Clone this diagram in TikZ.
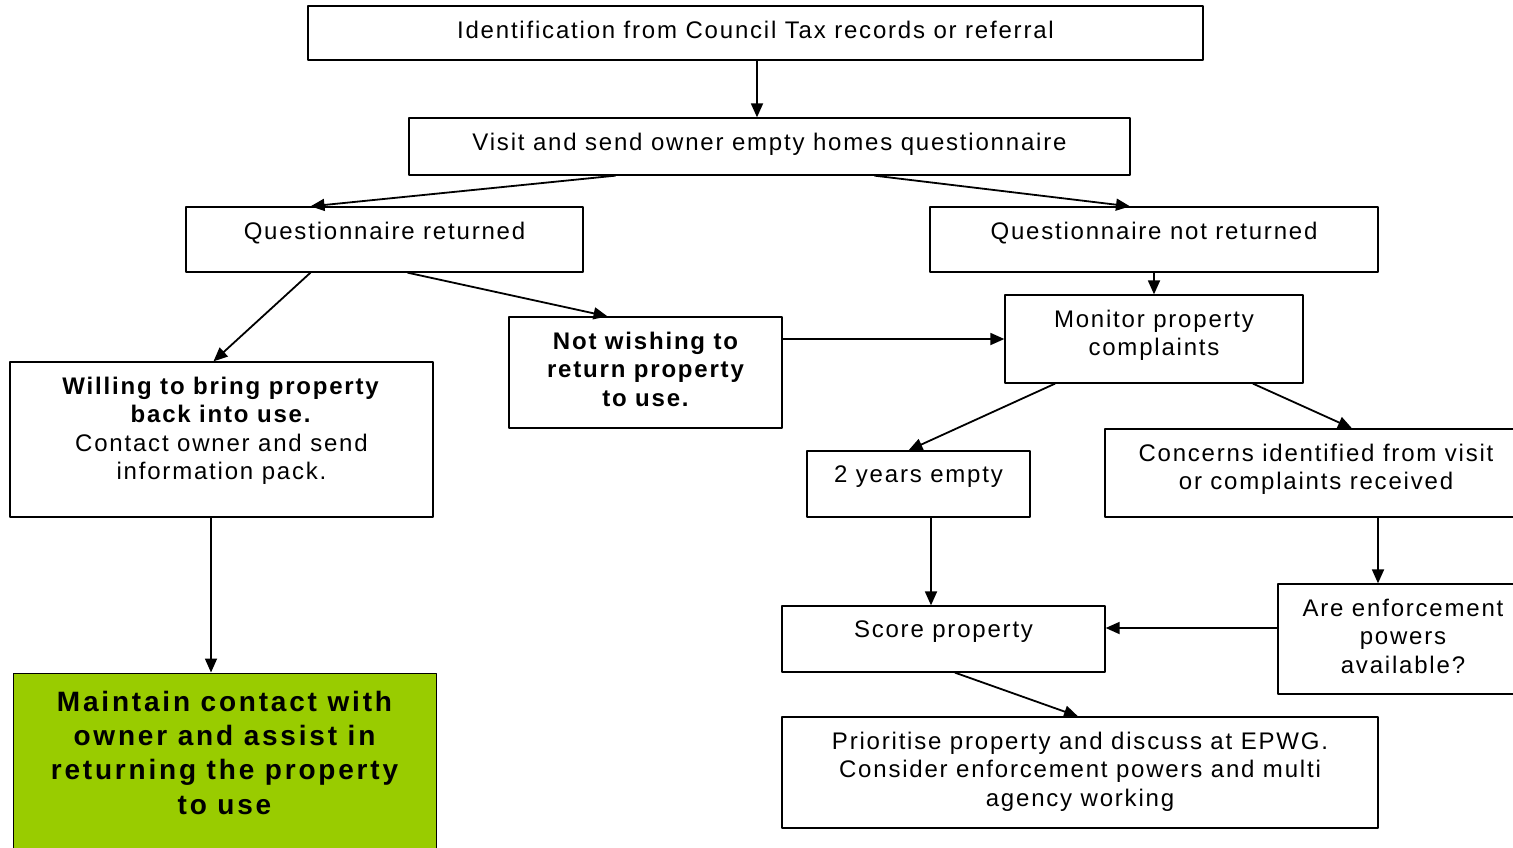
\documentclass[tikz,border=0pt]{standalone}
\usepackage{fontspec}
\setmainfont{Liberation Sans}[LetterSpace=7.5]
\newfontfamily\greenfont{Liberation Sans}[LetterSpace=10]
\usetikzlibrary{arrows.meta}
\definecolor{leaf}{HTML}{99CC00}
\tikzset{
  every picture/.style={line join=round, >={Triangle[length=14pt,width=12pt]}},
  box/.style={draw, line width=1.3pt, inner sep=0pt},
  lbl/.style={anchor=north, yshift=-15.5pt, inner sep=0pt, align=center, font=\fontsize{24}{28.4}\selectfont},
  lblb/.style={lbl, font=\fontsize{24}{28.4}\selectfont\bfseries},
  lblg/.style={lbl, yshift=-2.6pt, font=\greenfont\fontsize{28}{34.3}\selectfont\bfseries},
  arr/.style={->, line width=1.8pt},
}

\begin{document}
\begin{tikzpicture}[x=1pt,y=-1pt]
\useasboundingbox (0,0) rectangle (1513,847);
\clip (0,0) rectangle (1513,847);
% boxes
\node[box,minimum width=895pt,minimum height=54pt,label={[lbl]north:Identification from Council Tax records or referral}] (top) at (755.5,33) {};
\node[box,minimum width=721pt,minimum height=57pt,label={[lbl]north:Visit and send owner empty homes questionnaire}] (visit) at (769.5,146.5) {};
\node[box,minimum width=397pt,minimum height=65pt,label={[lbl]north:Questionnaire returned}] (ret) at (384.5,239.5) {};
\node[box,minimum width=448pt,minimum height=65pt,label={[lbl]north:Questionnaire not returned}] (notret) at (1154,239.5) {};
\node[box,minimum width=273pt,minimum height=111pt,label={[lblb]north:Not wishing to\\return property\\to use.}] (notwish) at (645.5,372.5) {};
\node[box,minimum width=298pt,minimum height=88pt,label={[lbl]north:Monitor property\\complaints}] (monitor) at (1154,339) {};
\node[box,minimum width=423pt,minimum height=155pt,label={[lbl]north:\textbf{Willing to bring property}\\\textbf{back into use.}\\Contact owner and send\\information pack.}] (willing) at (221.5,439.5) {};
\node[box,minimum width=223pt,minimum height=66pt,label={[lbl]north:2 years empty}] (twoyrs) at (918.5,484) {};
\node[box,minimum width=422pt,minimum height=88pt,label={[lbl]north:Concerns identified from visit\\or complaints received}] (concerns) at (1316,473) {};
\node[box,minimum width=250pt,minimum height=110pt,label={[lbl]north:Are enforcement\\powers\\available?}] (enforce) at (1403,639) {};
\node[box,minimum width=323pt,minimum height=66pt,label={[lbl]north:Score property}] (score) at (943.5,639) {};
\node[box,minimum width=596pt,minimum height=111pt,label={[lbl]north:Prioritise property and discuss at EPWG.\\Consider enforcement powers and multi\\agency working}] (prior) at (1080,772.5) {};
\node[box,fill=leaf,line width=1pt,minimum width=423pt,minimum height=227pt,label={[lblg]north:Maintain contact with\\owner and assist in\\returning the property\\to use}] (green) at (224.5,786.5) {};
% arrows
\draw[arr] ([xshift=1.5pt]top.south) -- ([xshift=1.5pt]visit.north -| top.south);
\draw[arr] ([xshift=-154pt]visit.south) -- ([xshift=-74pt]ret.north);
\draw[arr] ([xshift=105pt]visit.south) -- ([xshift=-24pt]notret.north);
\draw[arr] (notret.south) -- (monitor.north);
\draw[arr] ([xshift=-74pt]ret.south) -- ([xshift=-8pt]willing.north);
\draw[arr] ([xshift=23pt]ret.south) -- ([xshift=-38pt]notwish.north);
\draw[arr] ([yshift=33.5pt]notwish.east) -- (monitor.west);
\draw[arr] ([xshift=-99pt]monitor.south) -- ([xshift=-10pt]twoyrs.north);
\draw[arr] ([xshift=99pt]monitor.south) -- ([xshift=36pt]concerns.north);
\draw[arr] ([xshift=-10.5pt]willing.south) -- ([xshift=-13.5pt]green.north);
\draw[arr] ([xshift=12.5pt]twoyrs.south) -- ([xshift=-12.5pt]score.north);
\draw[arr] ([xshift=62pt]concerns.south) -- ([xshift=-25pt]enforce.north);
\draw[arr] ([yshift=11pt]enforce.west) -- ([yshift=11pt]score.east);
\draw[arr] ([xshift=11.5pt]score.south) -- ([xshift=-2pt]prior.north);
\end{tikzpicture}
\end{document}
